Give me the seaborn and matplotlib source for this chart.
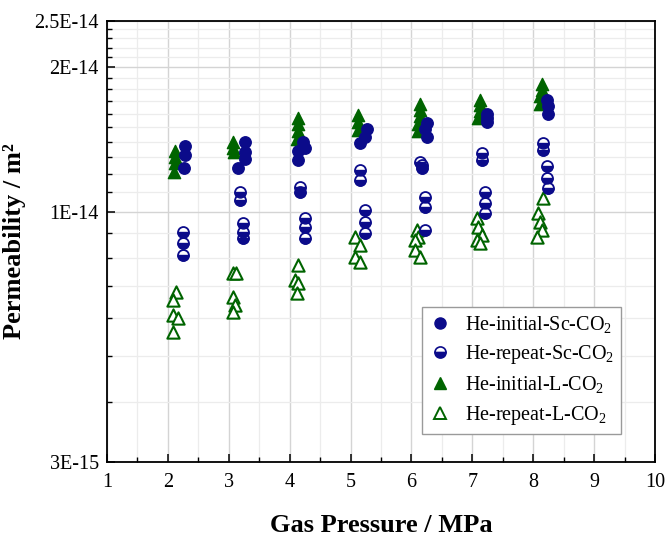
import matplotlib
matplotlib.use("Agg")
import matplotlib.pyplot as plt
import pandas as pd
import seaborn as sns
from matplotlib.markers import MarkerStyle
from matplotlib.lines import Line2D
from matplotlib.ticker import FixedLocator, FixedFormatter, NullFormatter

# ---------------- data (permeability in units of 1E-14 m^2) ----------------
UNIT = 1e-14

init_sc_x = [2.28, 2.28, 2.27, 3.26, 3.26, 3.26, 3.15, 4.22, 4.25, 4.14, 4.14,
             5.27, 5.24, 5.16, 6.25, 6.22, 6.25, 7.24, 7.24, 7.24, 8.22, 8.24, 8.24]
init_sc_y = [1.37, 1.31, 1.23, 1.40, 1.33, 1.29, 1.23, 1.40, 1.36, 1.34, 1.28,
             1.49, 1.43, 1.39, 1.53, 1.49, 1.43, 1.60, 1.57, 1.54, 1.71, 1.66, 1.60]

rep_sc_x = [2.25, 2.25, 2.25, 3.18, 3.18, 3.23, 3.23, 3.23, 4.17, 4.17, 4.25, 4.25, 4.25,
            5.16, 5.16, 5.24, 5.24, 5.24, 6.14, 6.17, 6.17, 6.22, 6.22, 6.22,
            7.16, 7.16, 7.21, 7.21, 7.21, 8.16, 8.16, 8.22, 8.22, 8.24]
rep_sc_y = [0.907, 0.858, 0.811, 1.100, 1.057, 0.945, 0.907, 0.879, 1.127, 1.100, 0.968, 0.930, 0.879,
            1.221, 1.164, 1.007, 0.952, 0.901, 1.270, 1.251, 1.231, 1.074, 1.023, 0.915,
            1.323, 1.281, 1.100, 1.040, 0.991, 1.388, 1.344, 1.245, 1.173, 1.118]

init_l_x = [2.12, 2.12, 2.12, 2.10, 3.07, 3.07, 3.08, 4.14, 4.14, 4.14, 4.12,
            5.12, 5.12, 5.12, 6.14, 6.14, 6.14, 6.11, 6.11, 7.12, 7.12, 7.12, 7.09,
            8.14, 8.14, 8.11, 8.11]
init_l_y = [1.34, 1.30, 1.26, 1.21, 1.40, 1.36, 1.33, 1.57, 1.52, 1.47, 1.42,
            1.59, 1.54, 1.48, 1.68, 1.63, 1.58, 1.52, 1.47, 1.71, 1.67, 1.62, 1.57,
            1.85, 1.79, 1.74, 1.68]

rep_l_x = [2.14, 2.09, 2.09, 2.17, 2.09, 3.07, 3.12, 3.07, 3.10, 3.07, 4.14, 4.09, 4.14, 4.12,
           5.07, 5.16, 5.07, 5.16, 6.09, 6.11, 6.06, 6.06, 6.14,
           7.08, 7.09, 7.16, 7.08, 7.12, 8.16, 8.08, 8.11, 8.14, 8.06]
rep_l_y = [0.680, 0.653, 0.608, 0.599, 0.561, 0.743, 0.743, 0.664, 0.638, 0.618,
           0.773, 0.720, 0.709, 0.676, 0.886, 0.851, 0.805, 0.786,
           0.915, 0.886, 0.872, 0.831, 0.805, 0.968, 0.930, 0.893, 0.872, 0.858,
           1.066, 0.991, 0.952, 0.915, 0.886]

series_labels = ["He-initial-Sc-CO$_2$", "He-repeat-Sc-CO$_2$",
                 "He-initial-L-CO$_2$", "He-repeat-L-CO$_2$"]

x_ticks = [1, 2, 3, 4, 5, 6, 7, 8, 9, 10]
x_minor = [1.5, 2.5, 3.5, 4.5, 5.5, 6.5, 7.5, 8.5, 9.5]
y_ticks = [3e-15, 1e-14, 2e-14, 2.5e-14]
y_tick_labels = ["3E-15", "1E-14", "2E-14", "2.5E-14"]
y_minor = [4e-15, 5e-15, 6e-15, 7e-15, 8e-15, 9e-15,
           1.1e-14, 1.2e-14, 1.3e-14, 1.4e-14, 1.5e-14, 1.6e-14, 1.7e-14, 1.8e-14, 1.9e-14,
           2.1e-14, 2.2e-14, 2.3e-14, 2.4e-14]

x_label = "Gas Pressure / MPa"
y_label = "Permeability / m²"

# ---------------- style ----------------
sns.set_style("ticks")
plt.rcParams["font.family"] = ["Liberation Serif", "DejaVu Serif"]
plt.rcParams["mathtext.fontset"] = "custom"
plt.rcParams["mathtext.rm"] = "Liberation Serif"
plt.rcParams["mathtext.it"] = "Liberation Serif:italic"
plt.rcParams["mathtext.bf"] = "Liberation Serif:bold"
plt.rcParams["text.color"] = "black"
plt.rcParams["axes.labelcolor"] = "black"
plt.rcParams["xtick.color"] = "black"
plt.rcParams["ytick.color"] = "black"

NAVY = "#0b0b8a"
GREEN = "#006400"


def frame(xs, ys):
    return pd.DataFrame({"P": xs, "K": [v * UNIT for v in ys]})


df_init_sc = frame(init_sc_x, init_sc_y)
df_rep_sc = frame(rep_sc_x, rep_sc_y)
df_init_l = frame(init_l_x, init_l_y)
df_rep_l = frame(rep_l_x, rep_l_y)

fig = plt.figure(figsize=(6.68, 5.36), dpi=100)
ax = fig.add_axes([0.1602, 0.1381, 0.8203, 0.8228])

# triangles first (beneath circles)
sns.scatterplot(data=df_rep_l, x="P", y="K", ax=ax, marker="^", s=78,
                color="white", edgecolor=GREEN, linewidth=1.5, legend=False, zorder=3)
sns.scatterplot(data=df_init_l, x="P", y="K", ax=ax, marker="^", s=78,
                color=GREEN, edgecolor=GREEN, linewidth=1.0, legend=False, zorder=3)
# half-filled circles: white disk with navy outline, navy lower half on top
sns.scatterplot(data=df_rep_sc, x="P", y="K", ax=ax, marker="o", s=62,
                color="white", edgecolor=NAVY, linewidth=1.3, legend=False, zorder=4)
sns.scatterplot(data=df_rep_sc, x="P", y="K", ax=ax, marker=MarkerStyle("o", fillstyle="bottom"),
                s=62, color=NAVY, edgecolor=NAVY, linewidth=1.0, legend=False, zorder=5)
sns.scatterplot(data=df_init_sc, x="P", y="K", ax=ax, marker="o", s=68,
                color=NAVY, edgecolor=NAVY, linewidth=1.0, legend=False, zorder=6)

ax.set_yscale("log")
ax.set_xlim(1, 10)
ax.set_ylim(3e-15, 2.5e-14)

ax.xaxis.set_major_locator(FixedLocator(x_ticks))
ax.xaxis.set_major_formatter(FixedFormatter([str(t) for t in x_ticks]))
ax.xaxis.set_minor_locator(FixedLocator(x_minor))
ax.yaxis.set_major_locator(FixedLocator(y_ticks))
ax.yaxis.set_major_formatter(FixedFormatter(y_tick_labels))
ax.yaxis.set_minor_locator(FixedLocator(y_minor))
ax.yaxis.set_minor_formatter(NullFormatter())

ax.tick_params(which="major", direction="in", length=6, width=1.1, labelsize=14.5,
               colors="black", pad=6)
ax.tick_params(which="minor", direction="in", length=3.5, width=1.0)
ax.tick_params(axis="x", which="major", pad=8)

ax.grid(which="major", color="#d4d4d4", linewidth=1.0)
ax.grid(which="minor", color="#ececec", linewidth=0.9)
ax.set_axisbelow(True)

for sp in ax.spines.values():
    sp.set_color("black")
    sp.set_linewidth(1.3)
    sp.set_visible(True)

ax.set_xlabel(x_label, fontsize=19, fontweight="bold", labelpad=16)
ax.set_ylabel(y_label, fontsize=19, fontweight="bold", labelpad=6)

handles = [
    Line2D([], [], linestyle="none", marker="o", markersize=8, color=NAVY,
           markeredgecolor=NAVY),
    Line2D([], [], linestyle="none", marker="o", markersize=8, color=NAVY,
           markerfacecolor=NAVY, markerfacecoloralt="white", fillstyle="bottom",
           markeredgecolor=NAVY, markeredgewidth=1.2),
    Line2D([], [], linestyle="none", marker="^", markersize=9, color=GREEN,
           markeredgecolor=GREEN),
    Line2D([], [], linestyle="none", marker="^", markersize=9, color=GREEN,
           markerfacecolor="white", markeredgecolor=GREEN, markeredgewidth=1.4),
]
leg = ax.legend(handles, series_labels, loc="lower right", bbox_to_anchor=(0.938, 0.0635),
                bbox_transform=ax.transAxes, borderaxespad=0, fontsize=14.5,
                frameon=True, fancybox=False, framealpha=1, edgecolor="#9a9a9a",
                handletextpad=0.75, labelspacing=0.42, borderpad=0.35, handlelength=1.0)
leg.get_frame().set_linewidth(1.0)

fig.savefig("out.png", dpi=100)
